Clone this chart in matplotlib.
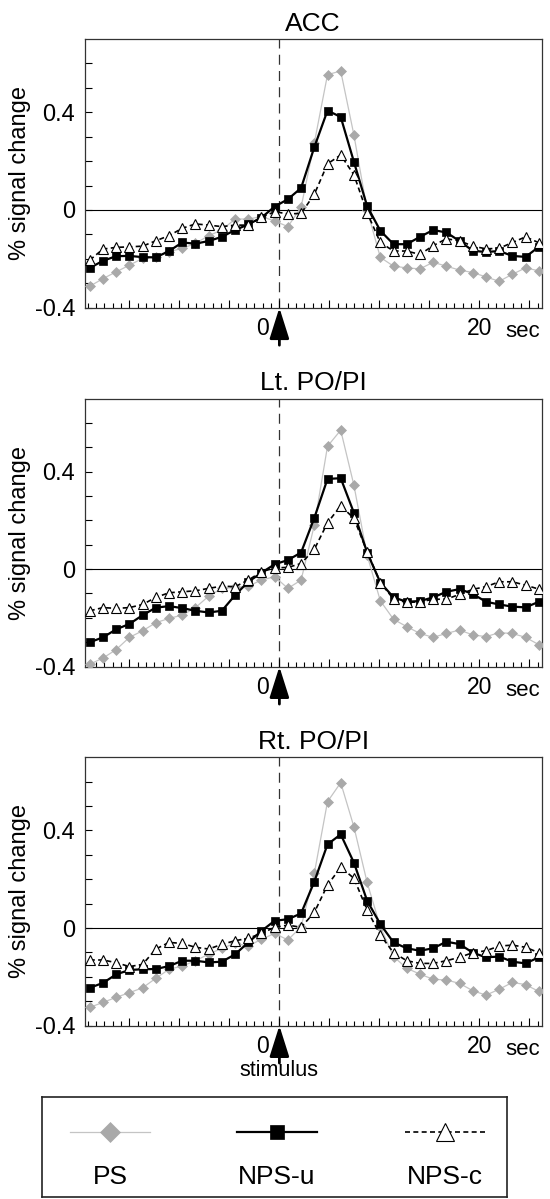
import numpy as np
import matplotlib
matplotlib.use('Agg')
import matplotlib.pyplot as plt
from matplotlib.lines import Line2D

plt.rcParams['font.family'] = ['Liberation Sans', 'DejaVu Sans']

# sampling grid (seconds relative to stimulus)
time_s = np.round(-18.95 + 1.32 * np.arange(35), 2)

regions = ['ACC', 'Lt. PO/PI', 'Rt. PO/PI']

acc_ps = [-0.312, -0.281, -0.253, -0.226, -0.198, -0.192, -0.171, -0.157, -0.137, -0.105,
          -0.082, -0.037, -0.037, -0.027, -0.045, -0.068, 0.011, 0.274, 0.554, 0.569,
          0.307, 0.0, -0.194, -0.230, -0.237, -0.241, -0.214, -0.230, -0.246, -0.256,
          -0.274, -0.292, -0.263, -0.237, -0.249]
acc_npsu = [-0.237, -0.208, -0.189, -0.188, -0.193, -0.194, -0.168, -0.133, -0.138, -0.127,
            -0.110, -0.082, -0.059, -0.031, 0.014, 0.044, 0.090, 0.257, 0.407, 0.381,
            0.197, 0.016, -0.085, -0.14, -0.14, -0.11, -0.082, -0.092, -0.127, -0.167,
            -0.172, -0.168, -0.188, -0.192, -0.151]
acc_npsc = [-0.205, -0.160, -0.153, -0.151, -0.148, -0.126, -0.105, -0.075, -0.057, -0.062,
            -0.068, -0.062, -0.062, -0.030, -0.007, -0.016, -0.014, 0.064, 0.189, 0.225,
            0.144, -0.011, -0.133, -0.168, -0.168, -0.182, -0.146, -0.118, -0.126, -0.148,
            -0.159, -0.157, -0.133, -0.110, -0.134]

lt_ps = [-0.39, -0.365, -0.33, -0.28, -0.253, -0.22, -0.202, -0.189, -0.158, -0.111,
         -0.079, -0.075, -0.07, -0.045, -0.031, -0.079, -0.045, 0.180, 0.504, 0.570,
         0.344, 0.057, -0.130, -0.206, -0.236, -0.264, -0.28, -0.264, -0.25, -0.27,
         -0.277, -0.261, -0.264, -0.28, -0.31]
lt_npsu = [-0.30, -0.28, -0.247, -0.225, -0.189, -0.158, -0.152, -0.160, -0.171, -0.178,
           -0.171, -0.107, -0.052, -0.015, 0.020, 0.037, 0.068, 0.210, 0.370, 0.373,
           0.231, 0.068, -0.055, -0.116, -0.134, -0.131, -0.116, -0.093, -0.082, -0.102,
           -0.134, -0.145, -0.154, -0.157, -0.134]
lt_npsc = [-0.171, -0.158, -0.161, -0.158, -0.145, -0.116, -0.097, -0.093, -0.089, -0.079,
           -0.07, -0.072, -0.045, -0.011, 0.005, 0.007, 0.023, 0.081, 0.19, 0.26,
           0.208, 0.071, -0.055, -0.123, -0.137, -0.134, -0.124, -0.123, -0.104, -0.083,
           -0.072, -0.052, -0.052, -0.066, -0.082]

rt_ps = [-0.325, -0.305, -0.284, -0.265, -0.245, -0.206, -0.169, -0.156, -0.134, -0.107,
         -0.083, -0.063, -0.074, -0.046, -0.022, -0.049, 0.005, 0.224, 0.518, 0.596,
         0.415, 0.187, 0.005, -0.117, -0.165, -0.189, -0.21, -0.213, -0.227, -0.257,
         -0.275, -0.251, -0.223, -0.232, -0.26]
rt_npsu = [-0.245, -0.225, -0.19, -0.172, -0.169, -0.168, -0.156, -0.134, -0.134, -0.141,
           -0.138, -0.108, -0.059, -0.012, 0.030, 0.036, 0.060, 0.19, 0.343, 0.384,
           0.268, 0.112, 0.016, -0.059, -0.083, -0.093, -0.083, -0.056, -0.066, -0.101,
           -0.12, -0.117, -0.138, -0.145, -0.12]
rt_npsc = [-0.131, -0.131, -0.142, -0.158, -0.149, -0.086, -0.059, -0.063, -0.079, -0.086,
           -0.067, -0.052, -0.042, -0.022, 0.003, 0.012, 0.003, 0.064, 0.176, 0.249,
           0.204, 0.074, -0.029, -0.101, -0.134, -0.145, -0.145, -0.134, -0.12, -0.101,
           -0.093, -0.074, -0.07, -0.079, -0.101]

series_names = ['PS', 'NPS-u', 'NPS-c']
panel_data = [(acc_ps, acc_npsu, acc_npsc),
              (lt_ps, lt_npsu, lt_npsc),
              (rt_ps, rt_npsu, rt_npsc)]

styles = {
    'PS': dict(color='#c4c4c4', lw=0.9, ls='-', marker='D', ms=5.2,
               mfc='#a9a9a9', mec='#a9a9a9', mew=0.5, zorder=3),
    'NPS-u': dict(color='black', lw=1.6, ls='-', marker='s', ms=5.6,
                  mfc='black', mec='black', mew=0.5, zorder=4),
    'NPS-c': dict(color='black', lw=1.2, ls=(0, (3, 2)), marker='^', ms=7,
                  mfc='white', mec='black', mew=0.8, zorder=5),
}

W, H = 550, 1199
fig = plt.figure(figsize=(W / 100, H / 100), dpi=100)

ax_left, ax_right = 85, 541.5
tops = [39, 398.5, 757.3]
bottoms = [307.7, 666.6, 1025.6]

for i, (name, data) in enumerate(zip(regions, panel_data)):
    ax = fig.add_axes([ax_left / W, 1 - bottoms[i] / H,
                       (ax_right - ax_left) / W, (bottoms[i] - tops[i]) / H])
    ax.set_xlim(-19.43, 26.2)
    ax.set_ylim(-0.4, 0.7)
    ax.axhline(0, color='black', lw=0.8, zorder=1)
    ax.axvline(0, color='#333333', lw=0.9, ls=(0, (8, 5)), zorder=1)
    for sname, vals in zip(series_names, data):
        ax.plot(time_s, vals, **styles[sname])
    for sp in ax.spines.values():
        sp.set_linewidth(0.9)
        sp.set_color('#333333')
    ax.set_yticks([-0.4, 0, 0.4])
    ax.set_yticklabels(['-0.4', '0', '0.4'])
    ax.set_yticks(np.round(np.arange(-0.3, 0.65, 0.1), 2), minor=True)
    ax.set_xticks(np.arange(-15, 26, 5))
    ax.set_xticks(np.arange(-19.1667, 26.2, 5 / 6), minor=True)
    ax.tick_params(axis='y', which='both', direction='in', length=5, width=0.8,
                   labelsize=17, pad=7)
    ax.tick_params(axis='x', which='major', direction='in', length=6, width=0.8,
                   labelbottom=False)
    ax.tick_params(axis='x', which='minor', direction='in', length=3.5, width=0.8)
    ax.set_title(name, fontsize=19, pad=6)
    ax.set_ylabel('% signal change', fontsize=17)
    ax.yaxis.set_label_coords(-0.118, 0.5)
    ax.annotate('0', xy=(0, 0), xycoords=('data', 'axes fraction'),
                xytext=(-7.5, -6.5), textcoords='offset points',
                ha='right', va='top', fontsize=16.5)
    ax.annotate('20', xy=(20, 0), xycoords=('data', 'axes fraction'),
                xytext=(0, -6.5), textcoords='offset points',
                ha='center', va='top', fontsize=16.5)
    ax.annotate('sec', xy=(20, 0), xycoords=('data', 'axes fraction'),
                xytext=(18.5, -9.5), textcoords='offset points',
                ha='left', va='top', fontsize=16)
    ax.annotate('', xy=(0, 0), xycoords=('data', 'axes fraction'),
                xytext=(0, -27), textcoords='offset points',
                arrowprops=dict(arrowstyle='-|>,head_length=0.95,head_width=0.3',
                                color='black', lw=2, shrinkA=0, shrinkB=0,
                                mutation_scale=20),
                annotation_clip=False)
    if i == 2:
        ax.annotate('stimulus', xy=(0, 0), xycoords=('data', 'axes fraction'),
                    xytext=(0, -24.5), textcoords='offset points',
                    ha='center', va='top', fontsize=15.5)

# legend box
lx0, lx1, ly0, ly1 = 42, 507, 1097, 1197
lax = fig.add_axes([lx0 / W, 1 - ly1 / H, (lx1 - lx0) / W, (ly1 - ly0) / H])
lax.set_xlim(0, 1)
lax.set_ylim(0, 1)
lax.set_xticks([])
lax.set_yticks([])
for sp in lax.spines.values():
    sp.set_linewidth(1.2)
    sp.set_color('#222222')
leg_centers = [0.1465, 0.505, 0.867]
leg_ms = {'PS': 10, 'NPS-u': 10.5, 'NPS-c': 13}
for c, sname in zip(leg_centers, series_names):
    st = dict(styles[sname])
    st['ms'] = leg_ms[sname]
    lax.add_line(Line2D([c - 0.086, c + 0.086], [0.65, 0.65], markevery=[], **st))
    lax.add_line(Line2D([c], [0.65], **{**st, 'ls': 'none'}))
    lax.text(c, 0.2, sname, ha='center', va='center', fontsize=19)

fig.savefig('out.png', dpi=100)
